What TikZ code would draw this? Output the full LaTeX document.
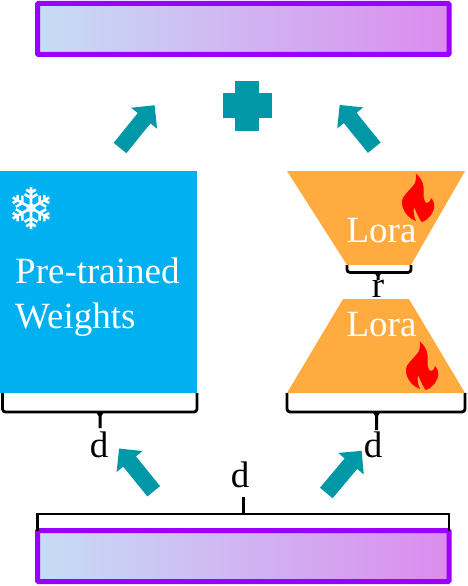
\documentclass[tikz,border=0pt]{standalone}
\usepackage{xcolor}
\usepackage{fontspec}
\setmainfont{Liberation Serif}
\usepackage{tikz}
\usetikzlibrary{arrows.meta, positioning, calc, shapes.geometric, shapes.arrows}
\definecolor{barpurple}{RGB}{153,0,255}
\definecolor{barleft}{RGB}{198,221,245}
\definecolor{barmid}{RGB}{214,200,246}
\definecolor{barright}{RGB}{219,140,238}
\definecolor{frozen}{RGB}{0,176,240}
\definecolor{lora}{RGB}{255,171,64}
\definecolor{teal}{RGB}{0,151,167}

\begin{document}
\begin{tikzpicture}[
      x=1pt, y=-1pt,
      bar/.style={rectangle, draw=barpurple, line width=5pt, rounded corners=1pt, left color=barleft, middle color=barmid, right color=barright, minimum width=411.5pt, minimum height=51pt, inner sep=0pt, outer sep=0pt},
      blockarr/.style={single arrow, fill=teal, minimum width=33pt, minimum height=55pt, inner sep=8pt, outer sep=0pt, single arrow head extend=8.5pt, anchor=tail},
      plusbar/.style={rectangle, fill=teal, inner sep=0pt, outer sep=0pt},
      lbl/.style={font=\fontsize{37}{45}\selectfont, inner sep=0pt, anchor=base},
      brk/.style={line width=2.8pt, rounded corners=3pt},
      flame/.pic={
        \fill[red] (20.7,3.3) .. controls (24,6) and (28,11) .. (28.5,17)
          .. controls (29,22) and (28,26) .. (29,29) .. controls (29.5,32) and (31,33.5) .. (32,33) .. controls (34,32.5) and (36,31) .. (36,28)
          .. controls (38.5,31) and (39.8,34) .. (39.3,37) .. controls (38.8,42) and (34,50) .. (26.7,52)
          .. controls (23,47) and (21.5,42) .. (19,37) .. controls (18,42) and (19,47) .. (21,51)
          .. controls (15,49) and (10,44) .. (8,38) .. controls (6,33) and (7,28) .. (10,25)
          .. controls (12,22) and (17,18) .. (20,13) .. controls (21,10) and (21.5,7) .. (20.7,3.3) -- cycle;
      },
      snowflake/.pic={
        \fill[white] (0,0) circle (4.5);
        \foreach \a in {30,90,...,330} {
          \draw[white, line width=2.6pt, rotate=\a] (0,0) -- (21,0)
            (10,0) -- ++(60:7.5) (10,0) -- ++(-60:7.5)
            (15.5,0) -- ++(60:5.5) (15.5,0) -- ++(-60:5.5);
        }
      },
    ]
    \useasboundingbox (0,0) rectangle (468,586);
    % bars
    \node[bar] (topbar) at (243.25,29) {};
    \node[bar] (bottombar) at (243.25,556) {};
    % frozen branch
    \node[rectangle, fill=frozen, minimum width=197pt, minimum height=222pt, inner sep=0pt, outer sep=0pt] (weights) at (98.5,282) {};
    \node[lbl, white, anchor=base west, align=left] (weightstxt) at (15,328) {Pre-trained\\Weights};
    \pic at (31,208) {snowflake};
    % lora branch
    \coordinate (upTL) at (287,171); \coordinate (upTR) at (465,171);
    \coordinate (upBR) at (411,265); \coordinate (upBL) at (347,265);
    \coordinate (downTL) at (343,299); \coordinate (downTR) at (409,299);
    \coordinate (downBR) at (465,393); \coordinate (downBL) at (287,393);
    \fill[lora] (upTL) -- (upTR) -- (upBR) -- (upBL) -- cycle;
    \fill[lora] (downTL) -- (downTR) -- (downBR) -- (downBL) -- cycle;
    \node[lbl, white] (loraA) at (381.5,242) {Lora};
    \node[lbl, white] (loraB) at (381.5,336) {Lora};
    \pic at (395,170) {flame};
    \pic at (399,338) {flame};
    % plus and arrows
    \node[plusbar, minimum width=49pt, minimum height=25pt] (plusH) at (247.5,105.5) {};
    \node[plusbar, minimum width=24pt, minimum height=50pt] (plusV) at (247,106) {};
    \node[blockarr, rotate=51] (arrTL) at (120,148) {};
    \node[blockarr, rotate=129] (arrTR) at (374.3,147.7) {};
    \node[blockarr, rotate=129] (arrBL) at (153.7,491.3) {};
    \node[blockarr, rotate=50] (arrBR) at (326.3,493) {};
    % dimensions
    \node[lbl] (dL) at (99,457) {d};
    \node[lbl] (dR) at (373,457) {d};
    \node[lbl] (dM) at (240,487) {d};
    \node[lbl] (rr) at (378,297) {r};
    \draw[brk] (weights.south west) ++(2.5,0) -- ++(0,19) -| (197,393);
    \draw[brk] (downBL) -- ++(0,19) -| (downBR);
    \draw[brk] (upBL) -- ++(0,7.5) -| (upBR);
    \foreach \x/\y/\e in {100/412/428, 376.5/412/430, 378/272/280} {
      \fill (\x-4,\y) -- (\x+4,\y) -- (\x+1.5,\y+4) -- (\x+1.5,\e) -- (\x-1.5,\e) -- (\x-1.5,\y+4) -- cycle;
    }
    \draw[line width=2.4pt] (bottombar.north west) -- ++(0,-16.5) -- ($(bottombar.north east)+(0,-16.5)$) -- (bottombar.north east);
    \draw[line width=3pt] (243,514) -- (243,497);
  \end{tikzpicture}
\end{document}
